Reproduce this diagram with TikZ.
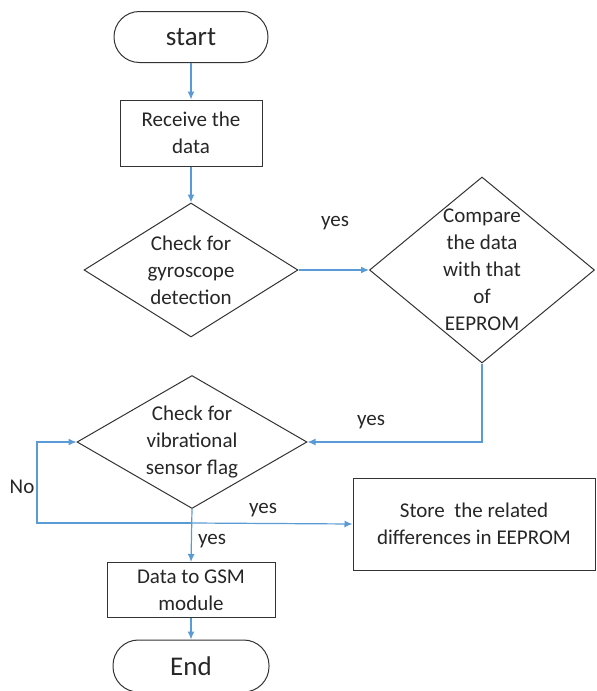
\documentclass[tikz,border=0pt]{standalone}
\usepackage{fontspec}
\setmainfont{Carlito}
\usetikzlibrary{shapes.geometric,arrows.meta}
\definecolor{flowblue}{RGB}{91,155,213}

\begin{document}
\begin{tikzpicture}[x=0.5pt,y=-0.5pt,
  font=\fontsize{10.5}{13.5}\selectfont,text=black!85,
  term/.style={draw=black!80,line width=0.5pt,rounded corners=12.7pt,minimum width=77pt,minimum height=25.5pt,font=\fontsize{13.5}{16}\selectfont},
  proc/.style={draw=black!80,line width=0.5pt,align=center,inner sep=0pt},
  decision/.style={draw=black!80,line width=0.5pt,diamond,inner sep=0pt},
  flow/.style={-{Latex[length=4pt,width=3.5pt]},draw=flowblue,line width=0.6pt}]
   \useasboundingbox (0,0) rectangle (596,691);

   \node[term] (start) at (191,37) {start};
   \node[proc,minimum width=71pt,minimum height=33pt] (recv) at (191,133) {Receive the\\data};

   \node[decision,minimum width=107pt,minimum height=67pt] (gyro) at (191,270) {};
   \node[align=center] (gyrot) at (gyro) {Check for\\gyroscope\\detection};
   \node[decision,minimum width=112.5pt,minimum height=93pt] (cmp) at (482,270) {};
   \node[align=center] (cmpt) at (cmp) {Compare\\the data\\with that\\of\\EEPROM};
   \node[decision,minimum width=115pt,minimum height=66.5pt] (vib) at (192,442) {};
   \node[align=center] (vibt) at (vib) {Check for\\vibrational\\sensor flag};

   \node[proc,minimum width=121pt,minimum height=46pt] (store) at (474,524) {Store~ the related\\differences in EEPROM};
   \node[proc,minimum width=84pt,minimum height=27.5pt] (gsm) at (191,590) {Data to GSM\\module};
   \node[term,minimum width=78pt,minimum height=26pt] (end) at (191,666) {End};

   \node (yes1) at (335,223) {yes};
   \node (yes2) at (371,422) {yes};
   \node (yes3) at (263,510) {yes};
   \node (yes4) at (212,541) {yes};
   \node (no) at (22,487) {No};

   \coordinate (split) at (192,523);
   \coordinate (back) at (37,523);

   \draw[flow] (start) -- (recv);
   \draw[flow] (recv) -- (gyro);
   \draw[flow] (gyro) -- (cmp);
   \draw[flow] (cmp.south) |- (vib.east);
   \draw[flow] (vib.south) -- (gsm.north);
   \draw[flow] (split) -- (store.west);
   \draw[flow] (split) -- (back) |- (vib.west);
   \draw[flow] (gsm) -- (end);
\end{tikzpicture}
\end{document}
